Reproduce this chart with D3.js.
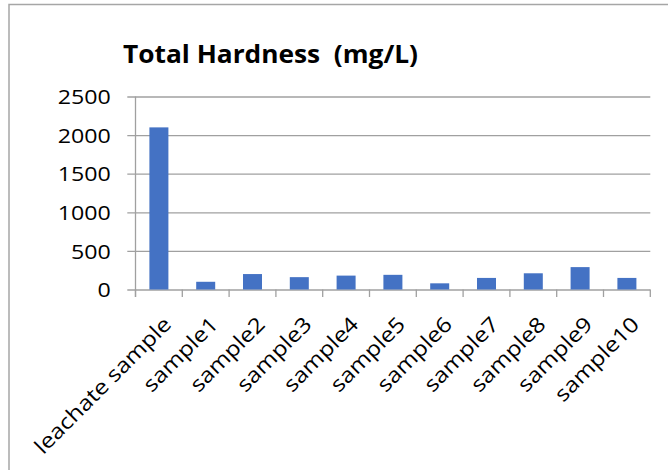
<!DOCTYPE html>
<html>
<head>
<meta charset="utf-8">
<script src="https://cdn.jsdelivr.net/npm/d3@7"></script>
<style>
  html, body { margin: 0; padding: 0; background: #fff; }
  svg { display: block; }
  text { font-family: "Open Sans", "Liberation Sans", sans-serif; fill: #000; }
</style>
</head>
<body>
<svg id="chart" width="668" height="470"></svg>
<script>
const categories = ["leachate sample", "sample1", "sample2", "sample3", "sample4", "sample5",
                    "sample6", "sample7", "sample8", "sample9", "sample10"];
const values = [2100, 100, 200, 160, 180, 190, 80, 150, 210, 290, 150];
const yTicks = [0, 500, 1000, 1500, 2000, 2500];
const titleText = "Total Hardness  (mg/L)";

const svg = d3.select("#chart");

// outer chart border (right/bottom edges lie outside the captured frame)
svg.append("rect")
  .attr("x", 9).attr("y", 4.5)
  .attr("width", 700).attr("height", 500)
  .attr("fill", "#fff").attr("stroke", "#a6a6a6").attr("stroke-width", 1.5);

const plotLeft = 135.5, plotRight = 650.3, plotTop = 96.5, plotBottom = 289.5;

const x = d3.scaleBand().domain(categories).range([plotLeft, plotRight])
  .paddingInner(0.594).paddingOuter(0.297);
const y = d3.scaleLinear().domain([0, 2500]).range([plotBottom, plotTop]);

// gridlines + y labels
const gridStart = 127.3;
const yAxis = d3.axisLeft(y).tickValues(yTicks).tickFormat(d3.format("d"))
  .tickSize(-(plotRight - gridStart)).tickPadding(16.5);
const gy = svg.append("g").attr("transform", `translate(${gridStart},0)`).call(yAxis);
gy.select(".domain").remove();
gy.selectAll(".tick line").attr("stroke", "#a0a0a0").attr("stroke-width", 1.3);
gy.selectAll(".tick text").attr("font-size", 20).attr("dy", "0.36em")
  .style("font-family", "'Open Sans', sans-serif");
gy.selectAll(".tick text").each(function () {
  const w = this.getComputedTextLength();
  d3.select(this).attr("textLength", w * 1.16).attr("lengthAdjust", "spacingAndGlyphs");
});

// vertical axis line
svg.append("line")
  .attr("x1", plotLeft).attr("x2", plotLeft)
  .attr("y1", plotTop).attr("y2", plotBottom + 7.5)
  .attr("stroke", "#a0a0a0").attr("stroke-width", 1.3);

// category tick marks at band boundaries
const step = x.step();
const bounds = d3.range(categories.length + 1).map(i => plotLeft + i * step);
svg.append("g").selectAll("line").data(bounds).join("line")
  .attr("x1", d => d).attr("x2", d => d)
  .attr("y1", plotBottom).attr("y2", plotBottom + 7.5)
  .attr("stroke", "#a0a0a0").attr("stroke-width", 1.3);

// bars
svg.append("g").selectAll("rect").data(values).join("rect")
  .attr("x", (d, i) => x(categories[i]))
  .attr("y", d => y(d))
  .attr("width", x.bandwidth())
  .attr("height", d => y(0) - y(d))
  .attr("fill", "#4472C4");

// category labels, rotated -45°
const labels = svg.append("g").selectAll("text").data(categories).join("text")
  .attr("transform", d => `translate(${x(d) + x.bandwidth() / 2 + 3},315) rotate(-45)`)
  .attr("text-anchor", "end")
  .attr("dy", "0.72em")
  .attr("font-size", 21)
  .text(d => d);
labels.each(function () {
  const w = this.getComputedTextLength();
  d3.select(this).attr("textLength", w * 1.15).attr("lengthAdjust", "spacingAndGlyphs");
});

// title
const title = svg.append("text")
  .attr("x", 123).attr("y", 63.3)
  .attr("font-size", 25).attr("font-weight", "bold")
  .style("white-space", "pre")
  .attr("xml:space", "preserve")
  .text(titleText);
title.attr("textLength", 295).attr("lengthAdjust", "spacingAndGlyphs");
</script>
</body>
</html>
